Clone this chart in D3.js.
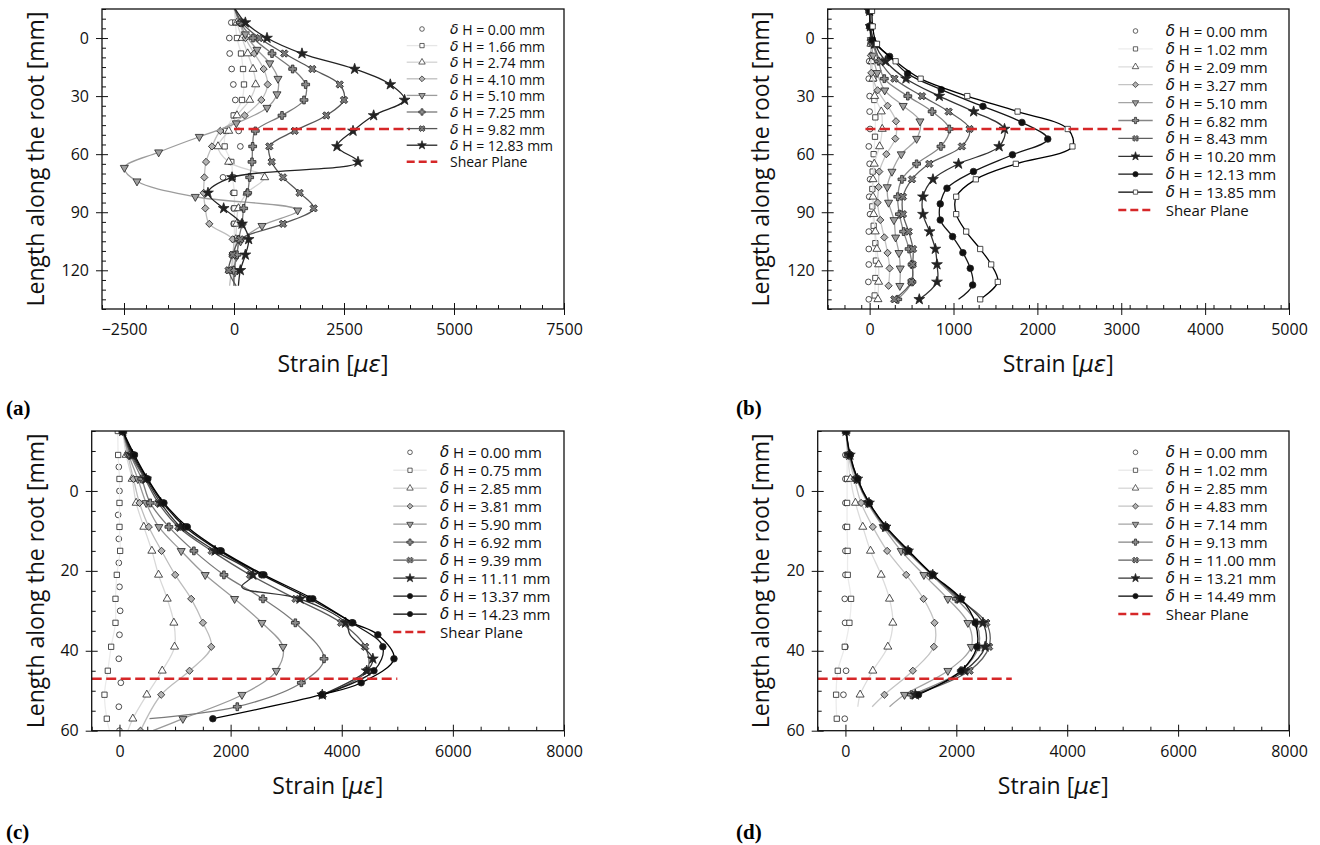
<!DOCTYPE html>
<html><head><meta charset="utf-8">
<script src="https://cdn.jsdelivr.net/npm/d3@7"></script>
<style>body{margin:0;background:#fff}svg{display:block}</style>
</head><body><svg id="chart" width="1320" height="845"></svg>
<script>
// ---------------- Panel (a) ----------------
const aDeltaH = ['0.00','1.66','2.74','4.10','5.10','7.25','9.82','12.83'];
const aDepth  = [-16,-8,0,8,16,24,32,40,48,56,64,72,80,88,96,104,112,120,128];
const aDepthV = [-16,-2,6,13,21,29,36,44,51,59,67,74,82,89,97,105,113,121,128];
const aStrain0 = [0,-61,-106,-98,-53,-15,30,8,106,144,-83,-250,-23,-8,-8,5,-45,-121,0];
const aStrain1 = [0,30,68,159,205,227,182,-8,-182,-212,-61,-30,8,8,8,8,0,-30,0];
const aStrain2 = [0,68,182,311,432,492,356,68,-120,-364,-121,697,295,100,60,40,20,0,0];
const aStrain3 = [0,121,258,462,674,765,621,242,-311,-500,-636,-674,-689,-652,-561,-30,-30,-60,-100];
const aStrain4 = [0,258,523,811,1000,977,750,53,-788,-1712,-2492,-2205,-879,1447,636,150,50,20,0];
const aStrain5 = [0,144,432,864,1333,1629,1591,1091,485,424,409,356,311,220,182,106,68,-8,0];
const aStrain6 = [0,182,576,1144,1780,2402,2500,2098,1379,803,856,1114,1492,1811,1114,144,-30,-121,50];
const aStrain7 = [0,258,750,1545,2742,3552,3877,3174,2705,2341,2818,-45,-591,-235,182,333,258,144,100];
const aXTicks = [-2500,0,2500,5000,7500];
const aYTicks = [0,30,60,90,120];

// ---------------- Panel (b) ----------------
const bDeltaH = ['0.00','1.02','2.09','3.27','5.10','6.82','8.43','10.20','12.13','13.85'];
const bDepth  = [-14,-6,3,12,21,30,38,47,56,65,73,82,91,100,109,117,126,135];
const bDepthQ = [-14,-6,3,12,21,32,41,51,60,69,78,87,97,106,115,124,133];
const bDepthD = [-14,-6,1,9,18,27,35,43,52,60,69,77,85,94,103,111,119,128];
const bDepthC = [-14,-6,1,9.5,18.4,26.7,35.3,43.6,52.2,60.3,69,77.6,85.7,94,102.6,110.9,119,127.6,135];
const bStrain0 = [0,0,10,-5,-10,0,0,5,-10,0,5,-5,5,-10,-10,-10,-15,-10];
const bStrain1 = [0,5,15,30,45,56,68,64,48,36,32,32,48,68,75,68,60];
const bStrain2 = [0,5,15,25,40,60,139,150,119,55,40,40,48,67,87,107,107,99];
const bStrain3 = [0,5,10,15,20,95,214,314,306,199,115,107,95,127,175,214,238,226];
const bStrain4 = [0,5,20,40,90,180,400,600,560,377,266,210,226,290,310,350,365,360];
const bStrain5 = [0,10,40,107,175,455,745,950,850,560,385,335,355,405,470,505,505,335];
const bStrain6 = [0,10,50,127,296,624,942,1192,1100,711,505,397,397,465,517,513,497,294];
const bStrain7 = [0,10,60,190,433,830,1240,1608,1544,1060,755,636,636,715,783,803,803,592];
const bStrain8 = [0,5,30,238,453,854,1351,1816,2124,1703,1238,922,842,842,989,1112,1200,1228,1060];
const bStrain9 = [28,36,87,310,608,1164,1764,2362,2418,1743,1266,1032,1032,1151,1318,1449,1528,1318];
const bXTicks = [0,1000,2000,3000,4000,5000];
const bYTicks = [0,30,60,90,120];

// ---------------- Panel (c) ----------------
const cDeltaH = ['0.00','0.75','2.85','3.81','5.90','6.92','9.39','11.11','13.37','14.23'];
const cDepthO = [-6,0,6,12,18,24,30,36,42,48,54,60];
const cDepthT = [-15,-9,-3,3,9,15,21,27,33,39,45,51,57,60];
const cDepthD = [-15,-9,-3,3,9,15,21,27,33,39,45,51,60];
const cDepthP = [-15,-9,-3,3,9,15,21,27,33,42,48,54,57];
const cDepthX = [-15,-9,-3,3,9,15,21,27,33,39,45,51];
const cDepthS = [-15,-9,-3,3,9,15,21,24,27,33,36,42,45,51];
const cDepthB = [-15,-9,-3,3,9,15,21,27,33,36,42,48,51,57];
const cStrain0 = [-12,0,-24,-12,-12,0,12,0,-12,24,-12,0];
const cStrain1 = [-30,-24,0,0,0,12,-48,-72,-72,-150,-210,-270,-228,-180];
const cStrain2 = [60,120,228,300,438,583,703,859,979,991,769,492,240,150];
const cStrain3 = [60,150,252,360,528,757,1003,1291,1502,1652,1261,751,378];
const cStrain4 = [60,168,330,480,709,1111,1543,2072,2564,2943,2823,2204,1141,600];
const cStrain5 = [60,200,400,553,889,1339,1880,2583,3165,3681,3273,2120,540];
const cStrain6 = [60,210,460,700,1060,1660,2350,3170,3990,4420,4456,3660];
const cStrain7 = [60,230,480,740,1100,1720,2400,2200,3250,4070,4150,4560,4450,3650];
const cStrain8 = [60,250,500,780,1180,1800,2560,3420,4180,4740,4580,3650];
const cStrain9 = [60,270,510,800,1220,1830,2600,3480,4200,4650,4940,4350,3640,1680];
const cXTicks = [0,2000,4000,6000,8000];
const cYTicks = [0,20,40,60];

// ---------------- Panel (d) ----------------
const dDeltaH = ['0.00','1.02','2.85','4.83','7.14','9.13','11.00','13.21','14.49'];
const dDepth  = [-15,-9,-3,3,9,15,21,27,33,39,45,51,57];
const dDepthT = [-15,-9,-3,3,9,15,21,27,33,39,45,51,54];
const dDepthM = [-15,-9,-3,3,9,15,21,27,33,39,45,51];
const dStrain0 = [12,0,0,0,0,0,0,-12,-6,0,12,-36,-12];
const dStrain1 = [12,30,30,30,30,40,42,102,72,-12,-138,-168,-156];
const dStrain2 = [12,40,90,181,313,452,644,795,855,765,494,265,223];
const dStrain3 = [12,50,162,283,494,753,1096,1409,1607,1595,1216,704,482];
const dStrain4 = [12,65,200,400,680,1005,1415,1848,2209,2270,1848,1066,795];
const dStrain5 = [12,70,205,410,700,1100,1550,2000,2360,2400,2089,1190];
const dStrain6 = [12,75,210,420,720,1120,1570,2050,2540,2590,2239,1250];
const dStrain7 = [12,80,215,425,725,1130,1575,2070,2480,2520,2150,1260];
const dStrain8 = [12,85,220,430,735,1144,1577,2089,2340,2372,2089,1318];
const dXTicks = [0,2000,4000,6000,8000];
const dYTicks = [0,20,40,60];

const shearDepth = 47;

// ---------------- helpers ----------------
const SANS = "'Open Sans', sans-serif";
const MATH = "'DejaVu Sans', sans-serif";
function S(lab, y, v, shape, line, fill, skip){ return {lab, y, v, shape, line, fill, skip: skip||[]}; }
const SYM = {
  circle:[d3.symbolCircle,26,0], dot:[d3.symbolCircle,34,0], square:[d3.symbolSquare,28,0],
  triangle:[d3.symbolTriangle,28,0], tridown:[d3.symbolTriangle,28,180], diamond:[d3.symbolSquare,26,45],
  plus:[d3.symbolCross,34,0], x:[d3.symbolCross,34,45], star:[d3.symbolStar,36,0]
};
function symbolPath(shape, k){ const s=SYM[shape]; return d3.symbol().type(s[0]).size(s[1]*k)(); }
function symbolRot(shape){ return SYM[shape][2]; }

const panels = [
 { id:'a', box:{x0:102,x1:564,y0:9,y1:309}, xDom:[-3000,7500], xMajor:aXTicks, xMinor:500,
   yDom:[-15,140], yMajor:aYTicks, yMinor:5, shear:[0,4000],
   series:[
    S(aDeltaH[0],aDepth,aStrain0,'circle',null,'#fff',[0,18]),
    S(aDeltaH[1],aDepth,aStrain1,'square','#e6e6e6','#fff',[0,18]),
    S(aDeltaH[2],aDepth,aStrain2,'triangle','#d2d2d2','#fff',[0,18]),
    S(aDeltaH[3],aDepth,aStrain3,'diamond','#bdbdbd','#b4b4b4',[0,18]),
    S(aDeltaH[4],aDepthV,aStrain4,'tridown','#9c9c9c','#a0a0a0',[0,18]),
    S(aDeltaH[5],aDepth,aStrain5,'plus','#777','#8c8c8c',[0,18]),
    S(aDeltaH[6],aDepth,aStrain6,'x','#555','#7a7a7a',[0,18]),
    S(aDeltaH[7],aDepth,aStrain7,'star','#222','#222',[0,18])],
   legend:{y0:29, dy:16.6, hx0:406.7, hx1:437.3, tx:450, fs:14},
   ylabX:35, letter:{t:'(a)',x:6,y:415} },
 { id:'b', box:{x0:827.7,x1:1289,y0:9,y1:309}, xDom:[-500,5000], xMajor:bXTicks, xMinor:200,
   yDom:[-15,140], yMajor:bYTicks, yMinor:5, shear:[-50,3000],
   series:[
    S(bDeltaH[0],bDepth,bStrain0,'circle',null,'#fff'),
    S(bDeltaH[1],bDepthQ,bStrain1,'square','#ececec','#fff'),
    S(bDeltaH[2],bDepth,bStrain2,'triangle','#dcdcdc','#fff'),
    S(bDeltaH[3],bDepthD,bStrain3,'diamond','#c4c4c4','#b4b4b4'),
    S(bDeltaH[4],bDepthD,bStrain4,'tridown','#a4a4a4','#a0a0a0'),
    S(bDeltaH[5],bDepth,bStrain5,'plus','#858585','#8c8c8c'),
    S(bDeltaH[6],bDepth,bStrain6,'x','#5f5f5f','#7a7a7a'),
    S(bDeltaH[7],bDepth,bStrain7,'star','#333','#222'),
    S(bDeltaH[8],bDepthC,bStrain8,'dot','#151515','#111',[18]),
    S(bDeltaH[9],bDepth,bStrain9,'square','#000','#fff')],
   legend:{y0:31, dy:17.9, hx0:1118.3, hx1:1152.7, tx:1165.7, fs:15},
   ylabX:760, letter:{t:'(b)',x:736,y:415} },
 { id:'c', box:{x0:91.7,x1:564,y0:431,y1:730.7}, xDom:[-500,8000], xMajor:cXTicks, xMinor:500,
   yDom:[-15,60], yMajor:cYTicks, yMinor:5, shear:[-500,5000],
   series:[
    S(cDeltaH[0],cDepthO,cStrain0,'circle',null,'#fff'),
    S(cDeltaH[1],cDepthT,cStrain1,'square','#ebebeb','#fff',[13]),
    S(cDeltaH[2],cDepthT,cStrain2,'triangle','#d8d8d8','#fff',[13]),
    S(cDeltaH[3],cDepthD,cStrain3,'diamond','#bcbcbc','#b4b4b4'),
    S(cDeltaH[4],cDepthT,cStrain4,'tridown','#9a9a9a','#a0a0a0',[13]),
    S(cDeltaH[5],cDepthP,cStrain5,'plus','#7a7a7a','#8c8c8c',[12]),
    S(cDeltaH[6],cDepthX,cStrain6,'x','#5a5a5a','#7a7a7a'),
    S(cDeltaH[7],cDepthS,cStrain7,'star','#333','#222',[7,10]),
    S(cDeltaH[8],cDepthX,cStrain8,'dot','#151515','#111'),
    S(cDeltaH[9],cDepthB,cStrain9,'dot','#000','#111')],
   legend:{y0:452.3, dy:17.97, hx0:393.3, hx1:426.7, tx:440, fs:15},
   ylabX:35, letter:{t:'(c)',x:6,y:839} },
 { id:'d', box:{x0:817.7,x1:1289,y0:431,y1:730.7}, xDom:[-500,8000], xMajor:dXTicks, xMinor:500,
   yDom:[-15,60], yMajor:dYTicks, yMinor:5, shear:[-500,3000],
   series:[
    S(dDeltaH[0],dDepth,dStrain0,'circle',null,'#fff'),
    S(dDeltaH[1],dDepth,dStrain1,'square','#ebebeb','#fff'),
    S(dDeltaH[2],dDepthT,dStrain2,'triangle','#dcdcdc','#fff',[12]),
    S(dDeltaH[3],dDepthT,dStrain3,'diamond','#c4c4c4','#b4b4b4',[12]),
    S(dDeltaH[4],dDepthT,dStrain4,'tridown','#a4a4a4','#a0a0a0',[12]),
    S(dDeltaH[5],dDepthM,dStrain5,'plus','#858585','#8c8c8c'),
    S(dDeltaH[6],dDepthM,dStrain6,'x','#5f5f5f','#7a7a7a'),
    S(dDeltaH[7],dDepthM,dStrain7,'star','#333','#222'),
    S(dDeltaH[8],dDepthM,dStrain8,'dot','#000','#111')],
   legend:{y0:452.3, dy:17.97, hx0:1118.3, hx1:1152.7, tx:1165.7, fs:15},
   ylabX:760, letter:{t:'(d)',x:736,y:839} }
];

const svg = d3.select('#chart');
const defs = svg.append('defs');
const RED = '#d62728';

panels.forEach(P=>{
  const B = P.box;
  const x = d3.scaleLinear().domain(P.xDom).range([B.x0,B.x1]);
  const y = d3.scaleLinear().domain(P.yDom).range([B.y0,B.y1]);
  const g = svg.append('g');
  defs.append('clipPath').attr('id','clip'+P.id).append('rect')
     .attr('x',B.x0).attr('y',B.y0).attr('width',B.x1-B.x0).attr('height',B.y1-B.y0);
  const plot = g.append('g').attr('clip-path','url(#clip'+P.id+')');
  const line = d3.line().curve(d3.curveCatmullRom.alpha(0.5));

  P.series.forEach(s=>{
    const pts = s.y.map((d,i)=>[x(s.v[i]), y(d)]);
    if(s.line){
      plot.append('path').attr('d', line(pts)).attr('fill','none')
        .attr('stroke', s.line).attr('stroke-width',1.3);
    }
    pts.forEach((p,i)=>{
      if(s.skip.indexOf(i)>=0) return;
      plot.append('path').attr('d', symbolPath(s.shape,1))
        .attr('transform',`translate(${p[0]},${p[1]}) rotate(${symbolRot(s.shape)})`)
        .attr('fill', s.fill).attr('stroke','#222').attr('stroke-width',0.8);
    });
  });
  // shear plane
  plot.append('line').attr('x1',x(P.shear[0])).attr('x2',x(P.shear[1]))
     .attr('y1',y(shearDepth)).attr('y2',y(shearDepth))
     .attr('stroke',RED).attr('stroke-width',2.6).attr('stroke-dasharray','10,4.5');

  // axes
  const minorX = d3.range(P.xDom[0], P.xDom[1]+1e-6, P.xMinor).filter(v=>P.xMajor.indexOf(v)<0);
  const minorY = d3.range(P.yDom[0], P.yDom[1]+1e-6, P.yMinor).filter(v=>P.yMajor.indexOf(v)<0);
  const fmt = d3.format('d');
  const gx = g.append('g').attr('transform',`translate(0,${B.y1})`);
  gx.call(d3.axisBottom(x).tickValues(P.xMajor).tickSize(6).tickPadding(9).tickFormat(fmt));
  gx.append('g').call(d3.axisBottom(x).tickValues(P.xMajor).tickSize(-6).tickFormat(''));
  gx.append('g').call(d3.axisBottom(x).tickValues(minorX).tickSize(-4).tickFormat(''));
  const gy = g.append('g').attr('transform',`translate(${B.x0},0)`);
  gy.call(d3.axisLeft(y).tickValues(P.yMajor).tickSize(6).tickPadding(7).tickFormat(fmt));
  gy.append('g').call(d3.axisLeft(y).tickValues(P.yMajor).tickSize(-6).tickFormat(''));
  gy.append('g').call(d3.axisLeft(y).tickValues(minorY).tickSize(-4).tickFormat(''));
  g.selectAll('.domain').remove();
  g.selectAll('.tick line').attr('stroke','#111').attr('stroke-width',1);
  g.selectAll('.tick text').attr('font-size',16).style('font-family',SANS).attr('fill','#111');
  g.append('rect').attr('x',B.x0).attr('y',B.y0).attr('width',B.x1-B.x0).attr('height',B.y1-B.y0)
    .attr('fill','none').attr('stroke','#111').attr('stroke-width',1.3);

  // axis labels
  const xl = g.append('text').attr('x',(B.x0+B.x1)/2).attr('y',B.y1+63)
     .attr('text-anchor','middle').attr('font-size',23).style('font-family',SANS).attr('fill','#111');
  xl.append('tspan').text('Strain [');
  xl.append('tspan').style('font-family',MATH).style('font-style','italic').text('με');
  xl.append('tspan').text(']');
  g.append('text').attr('transform',`translate(${P.ylabX},${(B.y0+B.y1)/2}) rotate(-90)`)
     .attr('text-anchor','middle').attr('dominant-baseline','central').attr('font-size',23)
     .style('font-family',SANS).attr('fill','#111')
     .text('Length along the root [mm]');
  g.append('text').attr('x',P.letter.x).attr('y',P.letter.y)
     .style('font-family',"'Liberation Serif','Times New Roman',serif").attr('font-weight','bold').attr('font-size',21)
     .attr('fill','#000').text(P.letter.t);

  // legend
  const L = P.legend;
  const lg = g.append('g');
  P.series.forEach((s,i)=>{
    const ry = L.y0 + i*L.dy;
    if(s.line) lg.append('line').attr('x1',L.hx0).attr('x2',L.hx1).attr('y1',ry).attr('y2',ry)
       .attr('stroke',s.line).attr('stroke-width',1.3);
    lg.append('path').attr('d',symbolPath(s.shape,0.65))
      .attr('transform',`translate(${(L.hx0+L.hx1)/2},${ry}) rotate(${symbolRot(s.shape)})`)
      .attr('fill',s.fill).attr('stroke','#222').attr('stroke-width',0.7);
    const t = lg.append('text').attr('x',L.tx).attr('y',ry).attr('dominant-baseline','central')
      .attr('font-size',L.fs).style('font-family',SANS).attr('fill','#111');
    t.append('tspan').style('font-family',MATH).style('font-style','italic').text('δ');
    t.append('tspan').text(' H = '+s.lab+' mm');
  });
  const ry = L.y0 + P.series.length*L.dy;
  lg.append('line').attr('x1',L.hx0).attr('x2',L.hx1).attr('y1',ry).attr('y2',ry)
     .attr('stroke',RED).attr('stroke-width',2.6).attr('stroke-dasharray','8,4');
  lg.append('text').attr('x',L.tx).attr('y',ry).attr('dominant-baseline','central')
     .attr('font-size',L.fs).style('font-family',SANS).attr('fill','#111').text('Shear Plane');
});
</script></body></html>
